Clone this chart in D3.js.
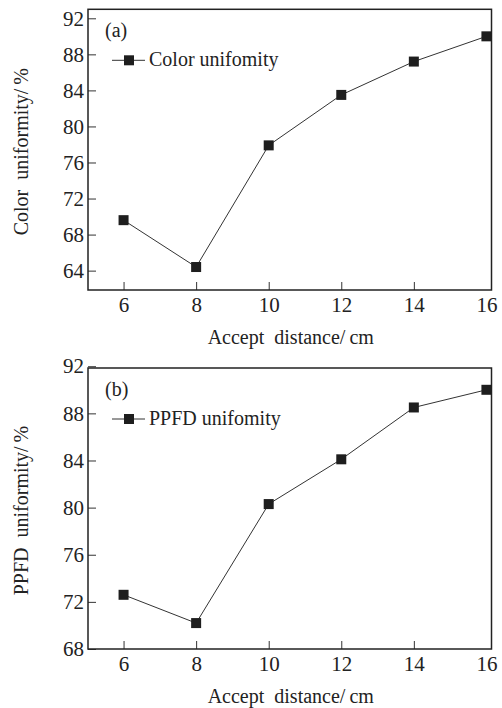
<!DOCTYPE html>
<html>
<head>
<meta charset="utf-8">
<script src="https://cdn.jsdelivr.net/npm/d3@7"></script>
<style>
  body { margin: 0; background: #fff; }
  svg text { font-family: "Liberation Serif", "Times New Roman", serif; fill: #222; }
</style>
</head>
<body>
<div id="chart"></div>
<script>
// Data
var distance = [6, 8, 10, 12, 14, 16];
var colorUniformity = [69.6, 64.4, 77.9, 83.5, 87.2, 90.0];
var ppfdUniformity = [72.6, 70.2, 80.3, 84.1, 88.5, 90.0];
var xTicks = [6, 8, 10, 12, 14, 16];
var colorTicks = [64, 68, 72, 76, 80, 84, 88, 92];
var ppfdTicks = [68, 72, 76, 80, 84, 88, 92];

var width = 502, height = 708;

var svg = d3.select("#chart")
  .append("svg")
  .attr("width", width)
  .attr("height", height);

function drawPanel(opts) {
  var left = 88, right = 491.5;

  var x = d3.scaleLinear().domain([5.02, 16.14]).range([left, right]);
  var y = d3.scaleLinear().domain(opts.yDomain).range([opts.bottom, opts.top]);

  var g = svg.append("g");

  // x axis (ticks inward)
  var xAxis = g.append("g")
    .attr("transform", "translate(0," + opts.bottom + ")")
    .call(d3.axisBottom(x).tickValues(xTicks).tickSize(-8).tickPadding(7));
  xAxis.select(".domain").remove();
  xAxis.selectAll("line").attr("stroke", "#333").attr("stroke-width", 1);
  // the last tick sits on the frame in the original, no mark drawn
  xAxis.selectAll(".tick").filter(function(d) { return d === 16; })
    .select("line").remove();
  xAxis.selectAll("text").attr("font-size", 21).attr("fill", "#222");

  // y axis (ticks inward)
  var yAxis = g.append("g")
    .attr("transform", "translate(" + left + ",0)")
    .call(d3.axisLeft(y).tickValues(opts.yTicks).tickSize(-8).tickPadding(4));
  yAxis.select(".domain").remove();
  yAxis.selectAll("line").attr("stroke", "#333").attr("stroke-width", 1);
  yAxis.selectAll("text").attr("font-size", 21).attr("fill", "#222");

  // frame
  g.append("rect")
    .attr("x", left)
    .attr("y", opts.top)
    .attr("width", right - left)
    .attr("height", opts.bottom - opts.top)
    .attr("fill", "none")
    .attr("stroke", "#222")
    .attr("stroke-width", 1.5);

  var pts = distance.map(function(d, i) { return [d, opts.values[i]]; });

  // line
  g.append("path")
    .datum(pts)
    .attr("fill", "none")
    .attr("stroke", "#333")
    .attr("stroke-width", 1)
    .attr("d", d3.line()
      .x(function(d) { return x(d[0]); })
      .y(function(d) { return y(d[1]); }));

  // square markers
  g.selectAll(".pt")
    .data(pts)
    .enter()
    .append("rect")
    .attr("class", "pt")
    .attr("x", function(d) { return x(d[0]) - 5; })
    .attr("y", function(d) { return y(d[1]) - 5; })
    .attr("width", 10)
    .attr("height", 10)
    .attr("fill", "#1e1e1e");

  // panel label
  g.append("text")
    .attr("x", 105)
    .attr("y", opts.top + 28)
    .attr("font-size", 20)
    .style("white-space", "pre")
    .text(opts.label);

  // legend
  var ly = opts.top + 51;
  g.append("line")
    .attr("x1", 112).attr("x2", 145)
    .attr("y1", ly).attr("y2", ly)
    .attr("stroke", "#333").attr("stroke-width", 1);
  g.append("rect")
    .attr("x", 124).attr("y", ly - 5)
    .attr("width", 10).attr("height", 10)
    .attr("fill", "#1e1e1e");
  g.append("text")
    .attr("x", 149)
    .attr("y", ly + 6)
    .attr("font-size", 20)
    .text(opts.legend);

  // x title
  g.append("text")
    .attr("x", (left + right) / 2 + 1)
    .attr("y", opts.bottom + 54)
    .attr("text-anchor", "middle")
    .attr("font-size", 20)
    .style("white-space", "pre")
    .text("Accept  distance/\u2009cm");

  // y title
  g.append("text")
    .attr("transform", "translate(28," + ((opts.top + opts.bottom) / 2 + 2) + ") rotate(-90)")
    .attr("text-anchor", "middle")
    .attr("font-size", 20)
    .style("white-space", "pre")
    .text(opts.yTitle);
}

drawPanel({
  top: 9.3, bottom: 290, yDomain: [61.85, 93.0], yTicks: colorTicks,
  values: colorUniformity, label: "(a)", legend: "Color unifomity",
  yTitle: "Color  uniformity/\u2009%"
});

drawPanel({
  top: 368, bottom: 649, yDomain: [68, 91.85], yTicks: ppfdTicks,
  values: ppfdUniformity, label: "(b)", legend: "PPFD unifomity",
  yTitle: "PPFD  uniformity/\u2009%"
});
</script>
</body>
</html>
